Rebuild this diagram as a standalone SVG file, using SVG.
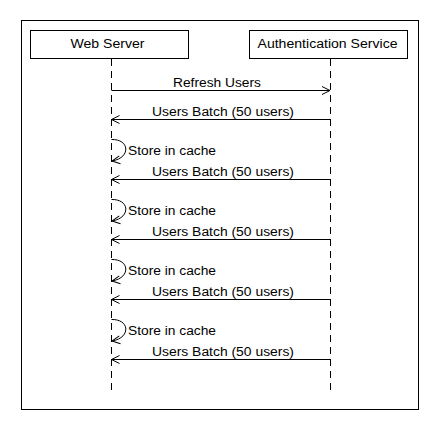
<svg xmlns="http://www.w3.org/2000/svg" width="440" height="430" viewBox="0 0 440 430">
<style>
text{font-family:"Liberation Sans",Arial,sans-serif;font-size:12px;fill:#000}
.box{fill:#fff;stroke:#000;stroke-width:1}
.life{stroke:#000;stroke-width:1;stroke-dasharray:7,5;fill:none}
.msg{stroke:#000;stroke-width:1;fill:none}
</style>
<defs>
<marker id="open" markerWidth="10" markerHeight="10" refX="9" refY="5" orient="auto" markerUnits="userSpaceOnUse">
<path d="M1,1 L9,5 L1,9" fill="none" stroke="#000" stroke-width="1"/>
</marker>
</defs>
<rect x="0" y="0" width="440" height="430" fill="#fff"/>
<rect id="frame" x="21.5" y="20.5" width="397" height="389" fill="none" stroke="#000" stroke-width="1"/>
<g id="web-server">
<rect class="box" x="30.5" y="30.5" width="158" height="28"/>
<text x="70.5" y="48" textLength="74" lengthAdjust="spacingAndGlyphs">Web Server</text>
<line class="life" x1="111.5" y1="59" x2="111.5" y2="391"/>
</g>
<g id="auth-service">
<rect class="box" x="249.5" y="30.5" width="158" height="28"/>
<text x="257.5" y="48" textLength="140" lengthAdjust="spacingAndGlyphs">Authentication Service</text>
<line class="life" x1="330.5" y1="59" x2="330.5" y2="391"/>
</g>
<g id="connectors">
<line class="msg" x1="111.5" y1="90.5" x2="330" y2="90.5" marker-end="url(#open)"/>
<text x="173" y="86.5" textLength="88" lengthAdjust="spacingAndGlyphs">Refresh Users</text>
<g id="batch-1">
<line class="msg" x1="330.5" y1="119.5" x2="111.5" y2="119.5" marker-end="url(#open)"/>
<text x="152" y="116" textLength="142" lengthAdjust="spacingAndGlyphs">Users Batch (50 users)</text>
</g>
<g id="cache-1">
<path class="msg" d="M111.5,139.5 C130,139 131,158 112,161" marker-end="url(#open)"/>
<text x="128" y="154.5" textLength="88" lengthAdjust="spacingAndGlyphs">Store in cache</text>
</g>
<g id="batch-2">
<line class="msg" x1="330.5" y1="179.5" x2="111.5" y2="179.5" marker-end="url(#open)"/>
<text x="152" y="176" textLength="142" lengthAdjust="spacingAndGlyphs">Users Batch (50 users)</text>
</g>
<g id="cache-2">
<path class="msg" d="M111.5,199.5 C130,199 131,218 112,221" marker-end="url(#open)"/>
<text x="128" y="214.5" textLength="88" lengthAdjust="spacingAndGlyphs">Store in cache</text>
</g>
<g id="batch-3">
<line class="msg" x1="330.5" y1="239.5" x2="111.5" y2="239.5" marker-end="url(#open)"/>
<text x="152" y="236" textLength="142" lengthAdjust="spacingAndGlyphs">Users Batch (50 users)</text>
</g>
<g id="cache-3">
<path class="msg" d="M111.5,259.5 C130,259 131,278 112,281" marker-end="url(#open)"/>
<text x="128" y="274.5" textLength="88" lengthAdjust="spacingAndGlyphs">Store in cache</text>
</g>
<g id="batch-4">
<line class="msg" x1="330.5" y1="299.5" x2="111.5" y2="299.5" marker-end="url(#open)"/>
<text x="152" y="296" textLength="142" lengthAdjust="spacingAndGlyphs">Users Batch (50 users)</text>
</g>
<g id="cache-4">
<path class="msg" d="M111.5,319.5 C130,319 131,338 112,341" marker-end="url(#open)"/>
<text x="128" y="334.5" textLength="88" lengthAdjust="spacingAndGlyphs">Store in cache</text>
</g>
<g id="batch-5">
<line class="msg" x1="330.5" y1="359.5" x2="111.5" y2="359.5" marker-end="url(#open)"/>
<text x="152" y="356" textLength="142" lengthAdjust="spacingAndGlyphs">Users Batch (50 users)</text>
</g>
</g>
</svg>
